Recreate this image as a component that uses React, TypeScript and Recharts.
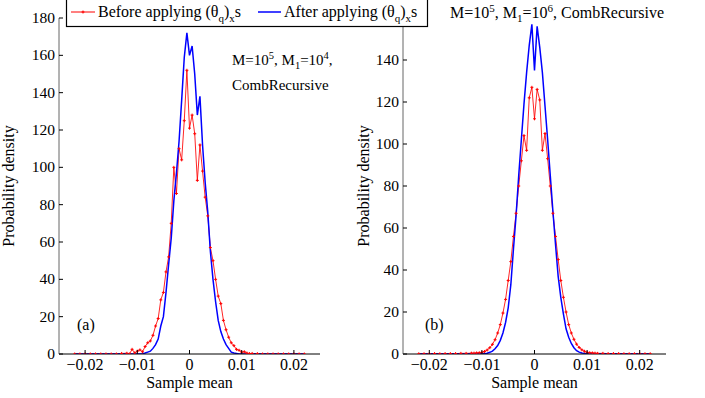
import React from "react";
import { LineChart, Line, XAxis, YAxis } from "recharts";

// histogram bin centres (sample mean), shared by all four series
const binCenters = [
  -0.022, -0.021, -0.02, -0.019, -0.018, -0.017, -0.016, -0.015, -0.014, -0.013,
  -0.012, -0.0115, -0.011, -0.0105, -0.01, -0.0095, -0.009, -0.0085, -0.008, -0.0075,
  -0.007, -0.0065, -0.006, -0.0055, -0.005, -0.0045, -0.004, -0.0035, -0.003, -0.0025,
  -0.002, -0.0015, -0.001, -0.0005, 0, 0.0005, 0.001, 0.0015, 0.002, 0.0025,
  0.003, 0.0035, 0.004, 0.0045, 0.005, 0.0055, 0.006, 0.0065, 0.007, 0.0075,
  0.008, 0.0085, 0.009, 0.0095, 0.01, 0.0105, 0.011, 0.0115, 0.012,
  0.013, 0.014, 0.015, 0.016, 0.017, 0.018, 0.019, 0.02, 0.021, 0.022
];

// (a) M=10^5, M1=10^4
const leftBefore = [
  0, 0, 0, 0, 0, 0, 0, 0, 0, 0.3,
  0.4, 0, 2.5, 0.6, 1.5, 2.2, 1.2, 4, 6, 7,
  10, 15, 19, 29, 33, 44, 52, 70, 100, 86,
  110, 104, 125, 152, 121, 128, 118, 93, 112, 98,
  84, 74, 57, 50, 40, 31, 27, 18, 13, 9,
  6, 4.5, 2.5, 2, 1, 1.2, 0.5, 0.2, 0.3,
  0.2, 0, 0, 0, 0, 0, 0, 0, 0, 0
];
const leftAfter = [
  0, 0, 0, 0, 0, 0, 0, 0, 0, 0,
  0, 0, 0, 0, 0, 0, 0.2, 0.5, 1, 1.5,
  3, 5, 8, 15, 20, 33, 48, 62, 82, 97,
  114, 136, 159, 172, 160, 165, 150, 128, 138, 112,
  92, 76, 55, 40, 28, 18, 12, 8, 5, 3,
  1, 0.5, 0.3, 0, 0, 0, 0, 0, 0,
  0, 0, 0, 0, 0, 0, 0, 0, 0, 0
];

// (b) M=10^5, M1=10^6
const rightBefore = [
  0.1, 0.1, 0.1, 0.2, 0.1, 0.2, 0.2, 0.2, 0.3, 0.3,
  0.4, 0.4, 0.5, 0.6, 0.8, 1.2, 1.9, 3, 4.6, 6.8,
  10, 14, 19.5, 26, 35, 44, 56, 67, 80, 92,
  104, 97, 122, 127, 112, 126, 121, 97, 105, 93,
  80, 67, 56, 45, 35, 27, 20, 14, 10, 7,
  4.7, 3.1, 2, 1.3, 0.8, 0.6, 0.5, 0.4, 0.3,
  0.3, 0.2, 0.2, 0.2, 0.1, 0.1, 0.1, 0.1, 0.1, 0.1
];
const rightAfter = [
  0, 0, 0, 0, 0, 0, 0, 0, 0, 0,
  0, 0, 0, 0, 0.1, 0.2, 0.4, 0.8, 1.4, 2.5,
  4, 6.5, 10, 15, 22, 33, 50, 66, 85, 102,
  119, 134, 147, 157, 135, 156, 146, 134, 118, 102,
  85, 68, 52, 37, 27, 19, 12, 8, 5, 3,
  1.6, 0.9, 0.5, 0.3, 0.15, 0, 0, 0, 0,
  0, 0, 0, 0, 0, 0, 0, 0, 0, 0
];

const xTicks = [-0.02, -0.01, 0, 0.01, 0.02];
const xTickLabels = ["\u22120.02", "\u22120.01", "0", "0.01", "0.02"];
const leftYTicks = [0, 20, 40, 60, 80, 100, 120, 140, 160, 180];
// the 160 tick of panel (b) sits under the legend box, so it is not drawn
const rightYTicks = [0, 20, 40, 60, 80, 100, 120, 140];

const FONT = "'Liberation Serif', 'Times New Roman', serif";
const RED = "#ff0000";
const BLUE = "#0000ff";

const leftData = binCenters.map((x, i) => ({ x, before: leftBefore[i], after: leftAfter[i] }));
const rightData = binCenters.map((x, i) => ({ x, before: rightBefore[i], after: rightAfter[i] }));

const PlusDot = (props: any) => {
  const { cx, cy, index } = props;
  if (cx == null || cy == null) return <g key={`n${index}`} />;
  return (
    <path
      key={`p${index}`}
      d={`M${cx - 1.5},${cy}H${cx + 1.5}M${cx},${cy - 1.5}V${cy + 1.5}`}
      stroke={RED}
      strokeWidth={1}
    />
  );
};

const XTick = (props: any) => {
  const { x, y, payload } = props;
  const idx = xTicks.indexOf(payload.value);
  return (
    <g>
      <line x1={x} x2={x} y1={y} y2={y - 4} stroke="#000" />
      <text x={x} y={y + 16} textAnchor="middle" fontFamily={FONT} fontSize={16} fill="#000">
        {idx >= 0 ? xTickLabels[idx] : payload.value}
      </text>
    </g>
  );
};

const YTick = (props: any) => {
  const { x, y, payload } = props;
  return (
    <g>
      <line x1={x} x2={x + 4} y1={y} y2={y} stroke="#000" />
      <text x={x - 4} y={y + 5} textAnchor="end" fontFamily={FONT} fontSize={15.5} fill="#000">
        {payload.value}
      </text>
    </g>
  );
};

const Panel = ({ data, yMax, yTicks, yWidth, right, labelOffset }: any) => (
  <LineChart width={340} height={398} data={data} margin={{ top: 18, right, bottom: 0, left: 0 }}>
    <XAxis
      dataKey="x"
      type="number"
      domain={[-0.025, 0.025]}
      ticks={xTicks}
      interval={0}
      height={44}
      tickSize={0}
      tickMargin={0}
      tickLine={false}
      tick={<XTick />}
      axisLine={{ stroke: "#000" }}
      allowDataOverflow
      label={{ value: "Sample mean", position: "insideBottom", offset: 10, fontFamily: FONT, fontSize: 16, fill: "#000" }}
    />
    <YAxis
      type="number"
      domain={[0, yMax]}
      ticks={yTicks}
      interval={0}
      width={yWidth}
      tickSize={0}
      tickMargin={0}
      tickLine={false}
      tick={<YTick />}
      axisLine={{ stroke: "#666" }}
      allowDataOverflow
      label={{
        value: "Probability density",
        angle: -90,
        position: "insideLeft",
        offset: labelOffset,
        style: { textAnchor: "middle" },
        fontFamily: FONT,
        fontSize: 16,
        fill: "#000"
      }}
    />
    <Line
      type="linear"
      dataKey="before"
      stroke={RED}
      strokeOpacity={0.85}
      strokeWidth={1}
      dot={PlusDot}
      activeDot={false}
      isAnimationActive={false}
    />
    <Line
      type="linear"
      dataKey="after"
      stroke={BLUE}
      strokeWidth={1.5}
      dot={false}
      activeDot={false}
      isAnimationActive={false}
    />
  </LineChart>
);

const Overlay = () => (
  <svg
    width={705}
    height={398}
    style={{ position: "absolute", left: 0, top: 0, pointerEvents: "none" }}
    fontFamily={FONT}
  >
    {/* legend */}
    <rect x={66.5} y={-10} width={361} height={36.5} fill="#fff" stroke="#000" strokeWidth={1.2} />
    <line x1={71} x2={95} y1={12} y2={12} stroke={RED} strokeWidth={1} />
    <path d="M81.5,12H84.5M83,10.5V13.5" stroke={RED} />
    <text x={98} y={17} fontSize={16} fill="#000">
      Before applying (θ<tspan dy={5} fontSize={11}>q</tspan>
      <tspan dy={-5}>)</tspan>
      <tspan dy={5} fontSize={11}>x</tspan>
      <tspan dy={-5}>s</tspan>
    </text>
    <line x1={258} x2={281} y1={12} y2={12} stroke={BLUE} strokeWidth={1.5} />
    <text x={284} y={17} fontSize={16} fill="#000">
      After applying (θ<tspan dy={5} fontSize={11}>q</tspan>
      <tspan dy={-5}>)</tspan>
      <tspan dy={5} fontSize={11}>x</tspan>
      <tspan dy={-5}>s</tspan>
    </text>

    {/* panel (a) annotation */}
    <text x={232} y={65} fontSize={15} fill="#000">
      M=10<tspan dy={-6} fontSize={10.5}>5</tspan>
      <tspan dy={6}>, M</tspan>
      <tspan dy={4} fontSize={10.5}>1</tspan>
      <tspan dy={-4}>=10</tspan>
      <tspan dy={-6} fontSize={10.5}>4</tspan>
      <tspan dy={6}>,</tspan>
    </text>
    <text x={232} y={90} fontSize={15} fill="#000">CombRecursive</text>
    <text x={77} y={330} fontSize={16} fill="#000">(a)</text>

    {/* panel (b) title */}
    <text x={450} y={18} fontSize={16} fill="#000">
      M=10<tspan dy={-6} fontSize={11}>5</tspan>
      <tspan dy={6}>, M</tspan>
      <tspan dy={4} fontSize={11}>1</tspan>
      <tspan dy={-4}>=10</tspan>
      <tspan dy={-6} fontSize={11}>6</tspan>
      <tspan dy={6}>, CombRecursive</tspan>
    </text>
    <text x={425} y={330} fontSize={16} fill="#000">(b)</text>
  </svg>
);

export default function App() {
  return (
    <div style={{ position: "absolute", left: 0, top: 0, width: 705, height: 398, background: "#fff", fontFamily: FONT }}>
      <div style={{ position: "absolute", left: 0, top: 0 }}>
        <Panel data={leftData} yMax={180} yTicks={leftYTicks} yWidth={59} right={20} labelOffset={8} />
      </div>
      <div style={{ position: "absolute", left: 345, top: 0 }}>
        <Panel data={rightData} yMax={160} yTicks={rightYTicks} yWidth={58} right={19} labelOffset={18} />
      </div>
      <Overlay />
    </div>
  );
}
